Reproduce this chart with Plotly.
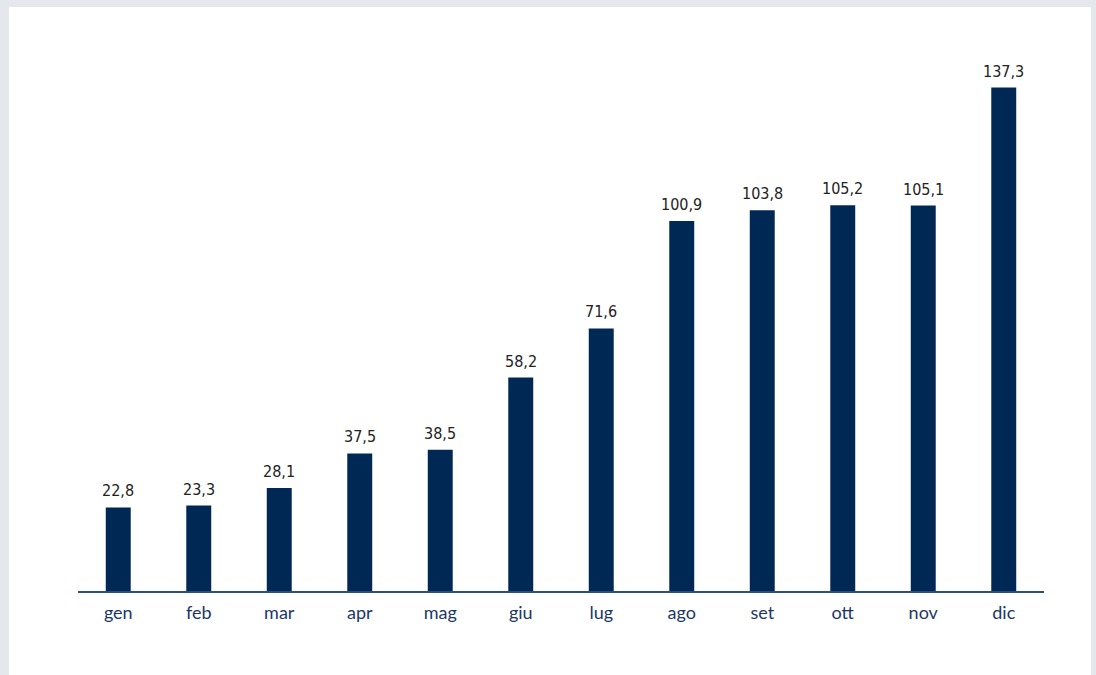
import plotly.graph_objects as go

months = ["gen", "feb", "mar", "apr", "mag", "giu",
          "lug", "ago", "set", "ott", "nov", "dic"]
values = [22.8, 23.3, 28.1, 37.5, 38.5, 58.2,
          71.6, 100.9, 103.8, 105.2, 105.1, 137.3]
value_labels = [f"{v:.1f}".replace(".", ",") for v in values]

NAVY = "#002855"
PAGE_BG = "#e4e7ec"

fig = go.Figure()

fig.add_trace(
    go.Bar(
        x=months,
        y=values,
        marker=dict(color=NAVY, line=dict(width=0)),
        hoverinfo="skip"
    )
)

# value labels above each bar
for m, v, lab in zip(months, values, value_labels):
    fig.add_annotation(
        x=m,
        y=v,
        text=lab,
        showarrow=False,
        yanchor="bottom",
        yshift=5,
        font=dict(family="DejaVu Sans Condensed, Roboto, sans-serif",
                  size=16, color="#222222")
    )

# white card on grey page
fig.add_shape(
    type="rect",
    xref="paper",
    yref="paper",
    x0=-0.0714,
    x1=1.0487,
    y0=-0.3,
    y1=1.0997,
    fillcolor="white",
    line=dict(width=0),
    layer="below"
)

fig.update_layout(
    width=1096,
    height=675,
    paper_bgcolor=PAGE_BG,
    plot_bgcolor="rgba(0,0,0,0)",
    showlegend=False,
    bargap=0.69,
    margin=dict(l=78, r=52, t=60, b=83.5),
    xaxis=dict(
        showgrid=False,
        showline=True,
        linecolor="#2e4f7a",
        linewidth=2,
        ticks="",
        ticklabelstandoff=4,
        tickfont=dict(family="Lato", size=18, color="#1c3766"),
        fixedrange=True
    ),
    yaxis=dict(
        range=[0, 144.8],
        visible=False,
        showgrid=False,
        zeroline=False,
        fixedrange=True
    )
)

# drop the browser's default page margin so the figure fills the window
fig.write_html(
    "out.html",
    config={"displayModeBar": False},
    post_script="document.body.style.margin='0';"
                f"document.body.style.background='{PAGE_BG}';"
)
